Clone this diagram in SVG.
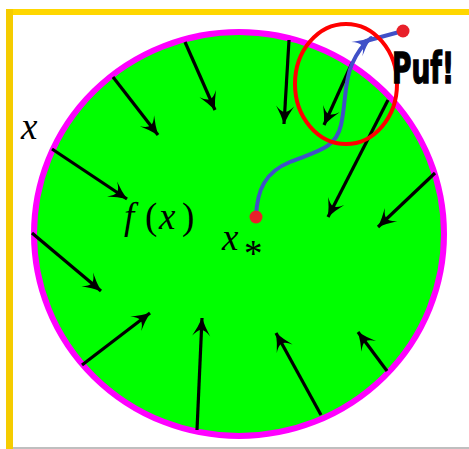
<svg xmlns="http://www.w3.org/2000/svg" width="469" height="449" viewBox="0 0 469 449">
  <style>
    .arr { stroke: #000; stroke-width: 3.2; fill: none; marker-end: url(#head); }
    .math { font-family: "Liberation Serif", "DejaVu Serif", serif; font-size: 37px; fill: #000; }
    .it { font-style: italic; }
  </style>
  <defs>
    <marker id="head" viewBox="-19 -10 20 20" refX="0" refY="0" markerWidth="20" markerHeight="20" markerUnits="userSpaceOnUse" orient="auto">
      <path d="M0,0 Q-9,-3.5 -18,-9 Q-12,-4 -12,0 Q-12,4 -18,9 Q-9,3.5 0,0 Z" fill="#000"/>
    </marker>
    <marker id="bhead" viewBox="-19 -10 20 20" refX="0" refY="0" markerWidth="20" markerHeight="20" markerUnits="userSpaceOnUse" orient="auto">
      <path d="M0,0 Q-9,-3.5 -18,-9 Q-12,-4 -12,0 Q-12,4 -18,9 Q-9,3.5 0,0 Z" fill="#4050c8"/>
    </marker>
  </defs>
  <rect width="469" height="449" fill="#fff"/>
  <g id="frame">
    <rect x="6" y="9" width="463" height="6" fill="#ffd700"/>
    <rect x="6" y="9" width="7" height="440" fill="#f5cc00"/>
    <line x1="13" y1="448" x2="469" y2="448" stroke="#aaa" stroke-width="1.5"/>
  </g>
  <g id="disk">
    <ellipse cx="239" cy="234" rx="205" ry="202" fill="#00ff00" stroke="#ff00ff" stroke-width="6"/>
  </g>
  <g id="connectors">
    <line class="arr" x1="185" y1="42" x2="215" y2="110"/>
    <line class="arr" x1="113" y1="77" x2="158" y2="135"/>
    <line class="arr" x1="289" y1="40" x2="284" y2="124"/>
    <line class="arr" x1="352" y1="63" x2="324" y2="125"/>
    <line class="arr" x1="388" y1="100" x2="328" y2="217"/>
    <line class="arr" x1="435" y1="173" x2="378" y2="227"/>
    <line class="arr" x1="52" y1="149" x2="127" y2="199"/>
    <line class="arr" x1="32" y1="233" x2="101" y2="291"/>
    <line class="arr" x1="82" y1="365" x2="150" y2="313"/>
    <line class="arr" x1="197" y1="430" x2="202" y2="318"/>
    <line class="arr" x1="321" y1="415" x2="276" y2="333"/>
    <line class="arr" x1="387" y1="371" x2="358" y2="332"/>
  </g>
  <g id="escape">
    <path d="M256,217 C257,190 265,172 290,162 C318,151 336,148 341,125 C346,103 344,82 352,64 C357,53 362,45 371,38" fill="none" stroke="#4050c8" stroke-width="4" stroke-linecap="round" marker-end="url(#bhead)"/>
    <line x1="366" y1="41" x2="403" y2="31" stroke="#4050c8" stroke-width="4" stroke-linecap="round"/>
    <ellipse cx="346" cy="84" rx="51" ry="60" fill="none" stroke="#ff0000" stroke-width="4"/>
    <circle cx="256" cy="217" r="6.5" fill="#e8202a"/>
    <circle cx="403" cy="31" r="6.5" fill="#e8202a"/>
  </g>
  <g id="labels">
    <text class="math it" x="21" y="139">x</text>
    <text class="math" y="229"><tspan class="it" x="124">f</tspan><tspan x="145">(</tspan><tspan class="it" x="159">x</tspan><tspan x="182">)</tspan></text>
    <text class="math it" x="222" y="250">x</text>
    <text class="math" x="244" y="266" font-size="24">*</text>
    <text transform="translate(392,83) scale(1,1.32)" x="0" y="0" font-family="'DejaVu Sans Condensed', 'DejaVu Sans', sans-serif" font-weight="bold" font-size="32" textLength="62" lengthAdjust="spacingAndGlyphs" fill="#000" stroke="#000" stroke-width="1">Puf!</text>
  </g>
</svg>
